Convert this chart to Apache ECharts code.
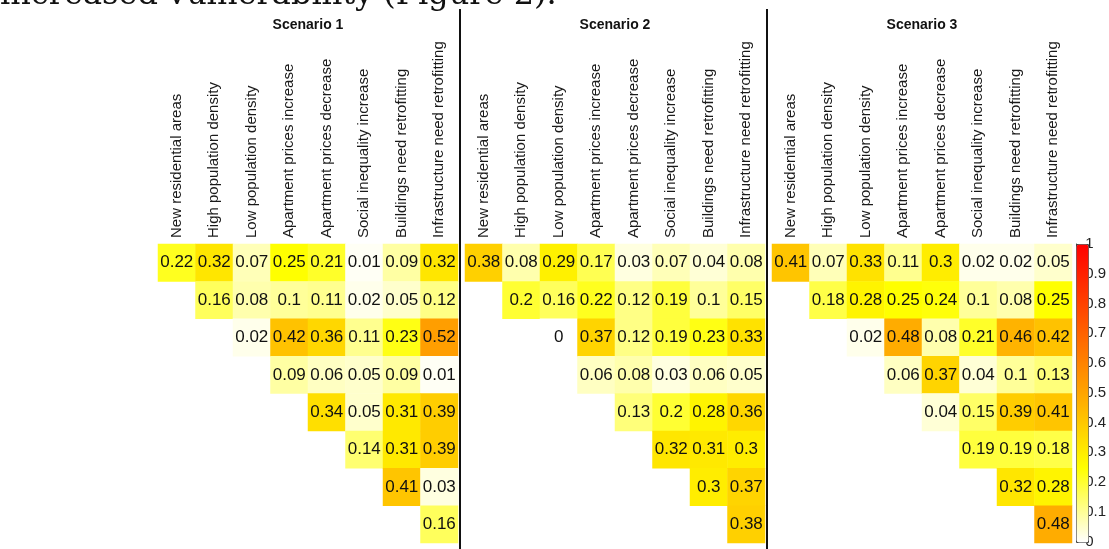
<!DOCTYPE html>
<html>
<head>
<meta charset="utf-8">
<script src="https://cdn.jsdelivr.net/npm/echarts@6/dist/echarts.min.js"></script>
<style>
  html, body { margin: 0; padding: 0; background: #fff; }
  #chart { width: 1109px; height: 549px; }
</style>
</head>
<body>
<div id="chart"></div>
<script>
// row factors (left) and column factors (top)
const rowNames = [
  'Reducing green area',
  'New residential areas',
  'High population density',
  'Low population density',
  'Apartment prices increase',
  'Apartment prices decrease',
  'Social inequality increase',
  'Buildings need retrofitting'
]
const colNames = [
  'New residential areas',
  'High population density',
  'Low population density',
  'Apartment prices increase',
  'Apartment prices decrease',
  'Social inequality increase',
  'Buildings need retrofitting',
  'Infrastructure need retrofitting'
]
const scenarioTitles = ['Scenario 1', 'Scenario 2', 'Scenario 3']

// upper triangle: row i starts at column i
const scenario1 = [
  [0.22, 0.32, 0.07, 0.25, 0.21, 0.01, 0.09, 0.32],
  [0.16, 0.08, 0.1, 0.11, 0.02, 0.05, 0.12],
  [0.02, 0.42, 0.36, 0.11, 0.23, 0.52],
  [0.09, 0.06, 0.05, 0.09, 0.01],
  [0.34, 0.05, 0.31, 0.39],
  [0.14, 0.31, 0.39],
  [0.41, 0.03],
  [0.16]
]
const scenario2 = [
  [0.38, 0.08, 0.29, 0.17, 0.03, 0.07, 0.04, 0.08],
  [0.2, 0.16, 0.22, 0.12, 0.19, 0.1, 0.15],
  [0, 0.37, 0.12, 0.19, 0.23, 0.33],
  [0.06, 0.08, 0.03, 0.06, 0.05],
  [0.13, 0.2, 0.28, 0.36],
  [0.32, 0.31, 0.3],
  [0.3, 0.37],
  [0.38]
]
const scenario3 = [
  [0.41, 0.07, 0.33, 0.11, 0.3, 0.02, 0.02, 0.05],
  [0.18, 0.28, 0.25, 0.24, 0.1, 0.08, 0.25],
  [0.02, 0.48, 0.08, 0.21, 0.46, 0.42],
  [0.06, 0.37, 0.04, 0.1, 0.13],
  [0.04, 0.15, 0.39, 0.41],
  [0.19, 0.19, 0.18],
  [0.32, 0.28],
  [0.48]
]
const scenarios = [scenario1, scenario2, scenario3]

const FONT = '"Liberation Sans", Arial, sans-serif'
const gridLefts = [158, 465, 772]
const cellArea = 300

function toCells(rows) {
  const out = []
  rows.forEach((vals, r) => {
    vals.forEach((v, k) => out.push([r + k, r, v]))
  })
  return out
}

const grids = gridLefts.map(left => ({ left: left, top: 244, width: cellArea, height: 299 }))
grids.push({ left: 1076, top: 244, width: 12, height: 298 })

const xAxes = gridLefts.map((_, g) => ({
  type: 'category',
  gridIndex: g,
  data: colNames,
  position: 'top',
  axisLine: { show: false },
  axisTick: { show: false },
  axisLabel: { rotate: -90, fontSize: 15, fontFamily: FONT, color: '#1a1a1a', margin: 6, interval: 0 }
}))
xAxes.push({ type: 'value', gridIndex: 3, show: false, min: 0, max: 1 })

const yAxes = gridLefts.map((_, g) => ({
  type: 'category',
  gridIndex: g,
  data: rowNames,
  inverse: true,
  axisLine: { show: false },
  axisTick: { show: false },
  axisLabel: { show: false }
}))
yAxes.push({
  type: 'value',
  gridIndex: 3,
  min: 0,
  max: 1,
  interval: 0.1,
  position: 'right',
  axisLine: { show: true, lineStyle: { color: '#444', width: 1 } },
  axisTick: { show: true, length: 2, lineStyle: { color: '#444' } },
  splitLine: { show: false },
  axisLabel: { fontSize: 15, fontFamily: FONT, color: '#222', margin: 2 }
})

const series = scenarios.map((rows, g) => ({
  type: 'heatmap',
  xAxisIndex: g,
  yAxisIndex: g,
  data: toCells(rows),
  label: { show: true, fontSize: 17, fontFamily: FONT, color: '#111', formatter: p => String(p.value[2]) },
  itemStyle: { borderWidth: 0 },
  emphasis: { disabled: true }
}))

// row names sit just left of each row's first cell
series.push({
  type: 'scatter',
  xAxisIndex: 0,
  yAxisIndex: 0,
  symbolSize: 0.1,
  itemStyle: { opacity: 0 },
  data: rowNames.map((name, i) => ({ value: [i, i], name: name })),
  label: {
    show: true,
    position: 'left',
    distance: 25,
    formatter: p => p.name,
    fontSize: 15,
    fontFamily: FONT,
    color: '#1a1a1a'
  },
  silent: true
})

const chart = echarts.init(document.getElementById('chart'))
chart.setOption({
  backgroundColor: '#fff',
  animation: false,
  title: scenarioTitles.map((t, g) => ({
    text: t,
    left: gridLefts[g] + cellArea / 2,
    top: 18,
    textAlign: 'center',
    padding: 0,
    textStyle: { fontSize: 14, fontWeight: 'bold', fontFamily: FONT, color: '#111' }
  })),
  grid: grids,
  xAxis: xAxes,
  yAxis: yAxes,
  visualMap: {
    type: 'continuous',
    min: 0,
    max: 1,
    seriesIndex: [0, 1, 2],
    orient: 'vertical',
    left: 1076,
    top: 244,
    itemWidth: 12,
    itemHeight: 298,
    padding: 0,
    calculable: false,
    borderWidth: 1,
    borderColor: '#444',
    inRange: { color: ['#FFFFFF', '#FFFF00', '#FFA500', '#FF5200', '#FF0000'] }
  },
  graphic: [
    {
      type: 'text',
      left: 0,
      top: -20,
      style: { text: 'increased vulnerability (Figure 2).', font: '32px "DejaVu Serif", serif', fill: '#111' }
    },
    { type: 'line', shape: { x1: 460, y1: 9, x2: 460, y2: 549 }, style: { stroke: '#111', lineWidth: 2 } },
    { type: 'line', shape: { x1: 767, y1: 9, x2: 767, y2: 549 }, style: { stroke: '#111', lineWidth: 2 } }
  ],
  series: series
})
</script>
</body>
</html>
